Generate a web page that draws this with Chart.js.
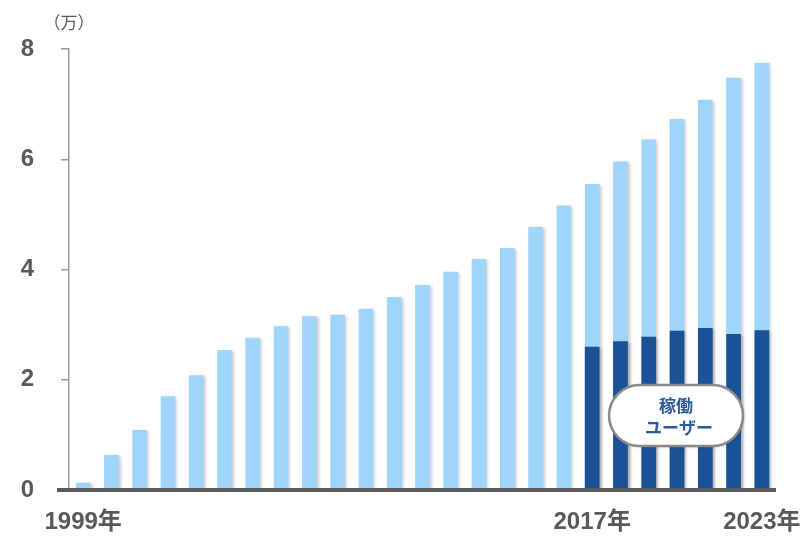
<!DOCTYPE html>
<html><head><meta charset="utf-8">
<script src="https://cdn.jsdelivr.net/npm/chart.js@4.4.0/dist/chart.umd.min.js"></script>
<style>html,body{margin:0;padding:0;background:#fff;}canvas{display:block;}</style>
</head><body>
<canvas id="c" width="803" height="536"></canvas>
<script>
const categories = ['1999','2000','2001','2002','2003','2004','2005','2006','2007','2008','2009','2010','2011','2012','2013','2014','2015','2016','2017','2018','2019','2020','2021','2022','2023'];
const totalUsers = [0.13,0.635,1.09,1.70,2.08,2.54,2.76,2.97,3.15,3.18,3.29,3.50,3.72,3.96,4.19,4.39,4.77,5.16,5.55,5.96,6.36,6.73,7.08,7.48,7.75];
const activeUsers = [null,null,null,null,null,null,null,null,null,null,null,null,null,null,null,null,null,null,2.60,2.70,2.78,2.89,2.94,2.83,2.90];
const shownTickLabels = {'1999':'1999年','2017':'2017年','2023':'2023年'};
const yTickValues = [0,2,4,6,8];
const unitLabel = '（万）';
const calloutLines = ['稼働','ユーザー'];
const calloutAnchor = {index: 21, value: 1.35};

const GRAY = '#595959';
const decor = {
  id: 'decor',
  beforeDatasetsDraw(chart) {
    const ctx = chart.ctx;
    ctx.save();
    ctx.shadowColor = 'rgba(0,0,0,0.22)';
    ctx.shadowBlur = 3;
    ctx.shadowOffsetX = 2;
    ctx.shadowOffsetY = 1;
  },
  afterDatasetsDraw(chart) {
    const ctx = chart.ctx;
    ctx.restore();
    const {x, y} = chart.scales;
    const area = chart.chartArea;
    const y0 = y.getPixelForValue(0);
    ctx.save();
    ctx.strokeStyle = GRAY;
    ctx.lineWidth = 4;
    ctx.beginPath();
    ctx.moveTo(area.left - 12, y0);
    ctx.lineTo(area.right, y0);
    ctx.stroke();
    ctx.restore();
    ctx.save();
    ctx.fillStyle = GRAY;
    ctx.font = '17px "Noto Sans CJK JP", sans-serif';
    ctx.textAlign = 'center';
    ctx.textBaseline = 'middle';
    ctx.fillText(unitLabel, area.left, y.getPixelForValue(8) - 26);
    ctx.restore();
    const cx = x.getPixelForValue(calloutAnchor.index) - 1;
    const cy = y.getPixelForValue(calloutAnchor.value);
    const w = 134, h = 61;
    ctx.save();
    ctx.shadowColor = 'rgba(0,0,0,0.25)';
    ctx.shadowBlur = 3;
    ctx.shadowOffsetX = 1;
    ctx.shadowOffsetY = 1;
    ctx.beginPath();
    ctx.roundRect(cx - w/2, cy - h/2, w, h, h/2);
    ctx.fillStyle = '#ffffff';
    ctx.fill();
    ctx.shadowColor = 'transparent';
    ctx.lineWidth = 2.5;
    ctx.strokeStyle = '#8a8a8a';
    ctx.stroke();
    ctx.fillStyle = '#2a5a9c';
    ctx.font = 'bold 17px "Noto Sans CJK JP", sans-serif';
    ctx.textAlign = 'center';
    ctx.textBaseline = 'middle';
    ctx.fillText(calloutLines[0], cx, cy - 10);
    ctx.fillText(calloutLines[1], cx + 3, cy + 12);
    ctx.restore();
  }
};

new Chart(document.getElementById('c'), {
  type: 'bar',
  data: {
    labels: categories,
    datasets: [
      {label: '稼働ユーザー', data: activeUsers, backgroundColor: '#1b5196', order: 0, grouped: false, barPercentage: 0.52, categoryPercentage: 1},
      {label: 'ユーザー', data: totalUsers, backgroundColor: '#a0d5fb', order: 1, grouped: false, barPercentage: 0.52, categoryPercentage: 1}
    ]
  },
  options: {
    responsive: false,
    animation: false,
    events: [],
    layout: {padding: {left: 0, right: 27, top: 49, bottom: 0}},
    plugins: {legend: {display: false}, tooltip: {enabled: false}},
    scales: {
      x: {
        offset: true,
        grid: {display: false},
        border: {display: false},
        ticks: {
          autoSkip: false, maxRotation: 0, minRotation: 0, padding: 10,
          color: GRAY,
          font: {family: '"Liberation Sans", "Noto Sans CJK JP", sans-serif', size: 24, weight: 'bold'},
          callback: function(v, i) { return shownTickLabels[categories[i]] || ''; }
        },
        afterFit(scale) { scale.height = 46; scale.paddingLeft = 0; scale.paddingRight = 0; }
      },
      y: {
        min: 0, max: 8,
        afterBuildTicks(scale) { scale.ticks = yTickValues.map(v => ({value: v})); },
        border: {display: true, color: '#9a9a9a', width: 1.5},
        grid: {
          drawOnChartArea: false, drawTicks: true, tickLength: 8, lineWidth: 1.5,
          color: (c) => (c.tick && c.tick.value === 0) ? 'rgba(0,0,0,0)' : '#9a9a9a'
        },
        ticks: {
          padding: 27, color: GRAY,
          font: {family: '"Liberation Sans", sans-serif', size: 24, weight: 'bold'}
        },
        afterFit(scale) { scale.width = 69; }
      }
    }
  },
  plugins: [decor]
});
</script>
</body></html>
